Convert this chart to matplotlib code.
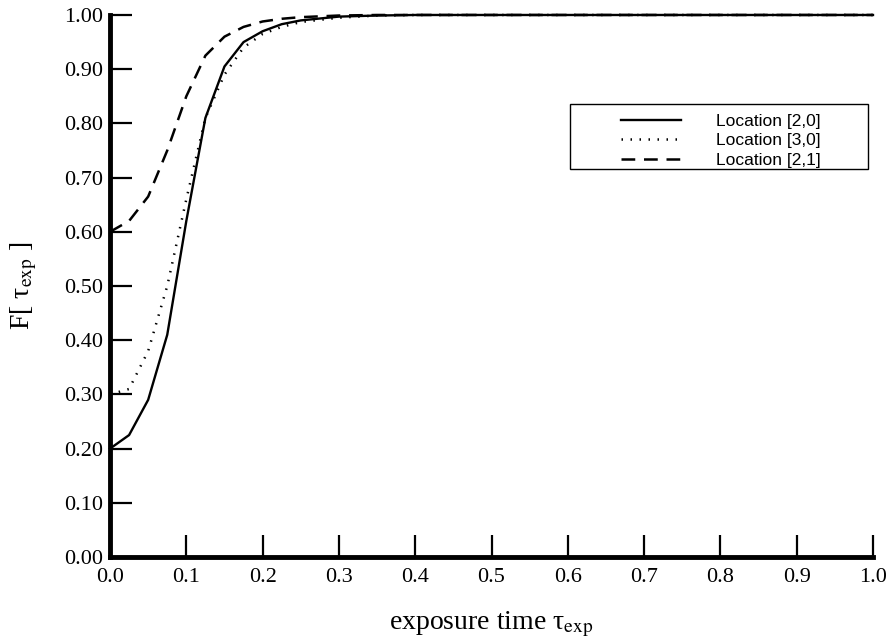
import matplotlib
matplotlib.use('Agg')
import matplotlib.pyplot as plt
from matplotlib.patches import Rectangle

# Exposure time samples and cumulative fraction for each location
tau = [0.0, 0.025, 0.05, 0.075, 0.1, 0.125, 0.15, 0.175, 0.2, 0.225, 0.25,
       0.3, 0.35, 0.4, 0.5, 0.6, 0.7, 0.8, 0.9, 1.0]
f_20 = [0.20, 0.225, 0.29, 0.41, 0.62, 0.81, 0.905, 0.95, 0.97, 0.983, 0.99,
        0.997, 0.999, 1.0, 1.0, 1.0, 1.0, 1.0, 1.0, 1.0]
f_30 = [0.30, 0.31, 0.38, 0.50, 0.66, 0.81, 0.89, 0.94, 0.965, 0.978, 0.987,
        0.995, 0.999, 1.0, 1.0, 1.0, 1.0, 1.0, 1.0, 1.0]
f_21 = [0.60, 0.62, 0.665, 0.75, 0.85, 0.925, 0.96, 0.978, 0.988, 0.993, 0.996,
        0.999, 1.0, 1.0, 1.0, 1.0, 1.0, 1.0, 1.0, 1.0]
labels = ['Location [2,0]', 'Location [3,0]', 'Location [2,1]']

plt.rcParams['mathtext.fontset'] = 'stix'
serif = 'Liberation Serif'

fig = plt.figure(figsize=(8.93, 6.43), dpi=100)
ax = fig.add_axes([0.1232, 0.1337, 0.8544, 0.843])

ax.plot(tau, f_20, '-', color='black', lw=1.7, label=labels[0], clip_on=False)
ax.plot(tau, f_30, color='black', lw=1.8, linestyle=(0, (0.6, 3.0)),
        label=labels[1], clip_on=False)
ax.plot(tau, f_21, color='black', lw=1.8, linestyle=(0, (5.5, 3.5)),
        label=labels[2], clip_on=False)

ax.set_xlim(0, 1)
ax.set_ylim(0, 1)
ax.set_xticks([i / 10 for i in range(11)])
ax.set_yticks([i / 10 for i in range(11)])
ax.set_xticklabels(['%.1f' % (i / 10) for i in range(11)], family=serif, fontsize=16)
ax.set_yticklabels(['%.2f' % (i / 10) for i in range(11)], family=serif, fontsize=16)
ax.tick_params(direction='in', length=16, width=1.6)
ax.tick_params(axis='x', pad=8)
ax.tick_params(axis='y', pad=5)

for side in ['top', 'right']:
    ax.spines[side].set_visible(False)
for side in ['left', 'bottom']:
    ax.spines[side].set_linewidth(3.5)

ax.set_xlabel('exposure time τ$_{\\rm exp}$', family=serif, fontsize=20, labelpad=16)
ax.set_ylabel('F[ τ$_{\\rm exp}$ ]', family=serif, fontsize=20, labelpad=18)

# legend without frame, boxed by a hand-drawn rectangle
leg = ax.legend(loc='upper left', bbox_to_anchor=(0.66, 0.831), frameon=False,
                prop={'family': 'Liberation Sans', 'size': 12.5},
                handlelength=3.5, handletextpad=2.0, labelspacing=0.25,
                borderaxespad=0)
ax.add_patch(Rectangle((0.603, 0.715), 0.39, 0.121, transform=ax.transAxes,
                       fill=False, edgecolor='black', lw=1.0))

fig.savefig('out.png', dpi=100)
